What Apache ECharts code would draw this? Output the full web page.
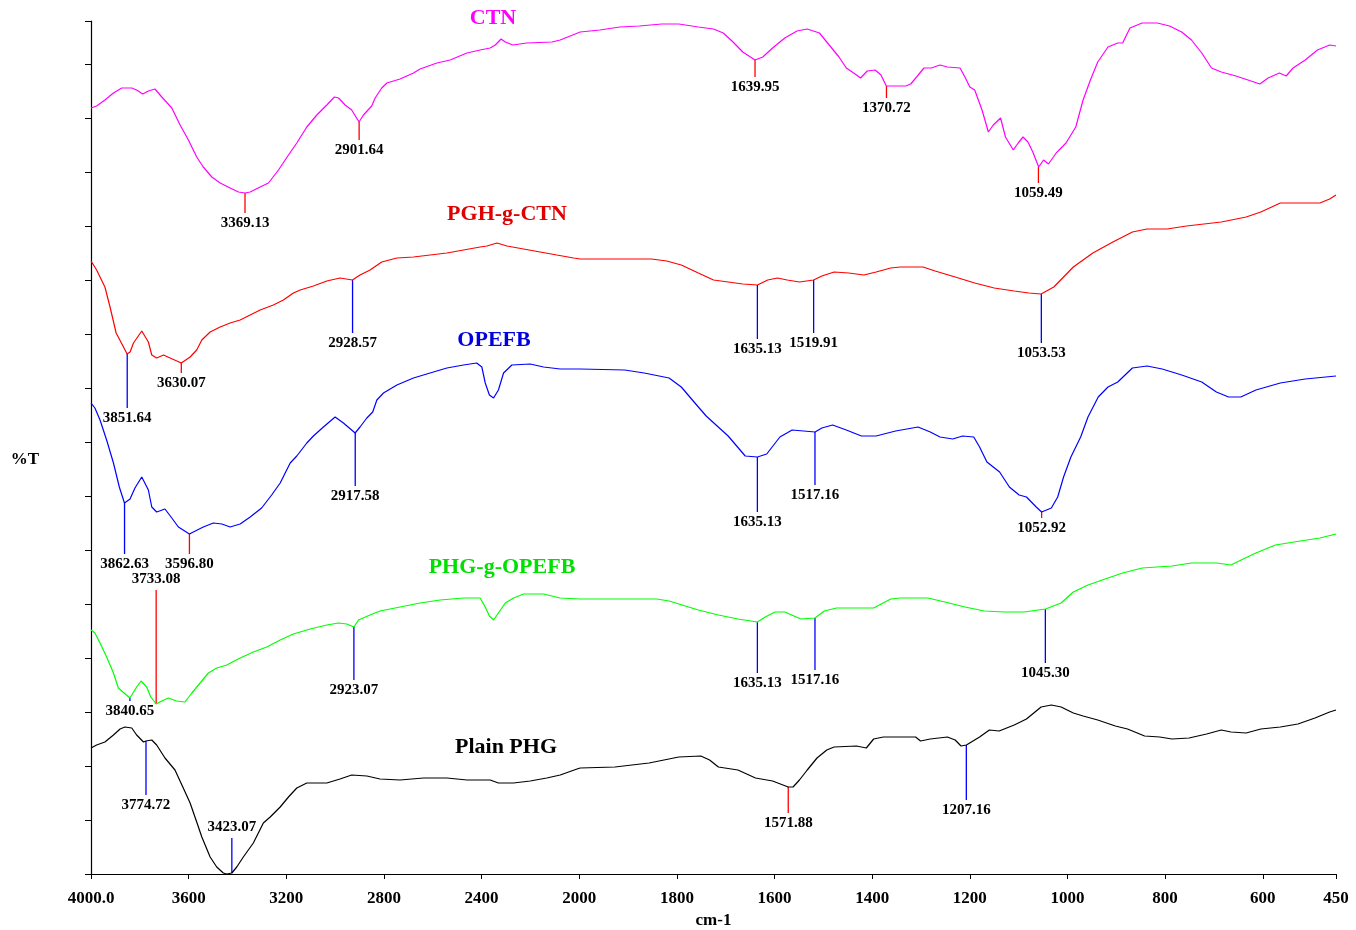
<!DOCTYPE html>
<html>
<head>
<meta charset="utf-8">
<title>FTIR spectra</title>
<script src="https://cdn.jsdelivr.net/npm/echarts@6/dist/echarts.min.js"></script>
<style>
html, body { margin: 0; padding: 0; background: #fff; }
#main { width: 1356px; height: 930px; }
</style>
</head>
<body>
<div id="main"></div>
<script>
// spectra: [wavenumber cm-1, offset %T]
const ctn = [[4000,766],[3977,768],[3943,774],[3908,781],[3874,786],[3833,786],[3813,784],[3788,780],[3765,783],[3738,785],[3710,777],[3669,766],[3635,749],[3601,734],[3567,717],[3540,707],[3505,697],[3471,691],[3430,686],[3396,682],[3369,681],[3348,682],[3307,687],[3273,691],[3232,704],[3191,719],[3157,731],[3116,747],[3075,759],[3034,769],[3003,777],[2986,776],[2959,769],[2932,764],[2902,752],[2884,759],[2850,768],[2836,776],[2809,786],[2788,791],[2734,795],[2679,801],[2652,805],[2583,811],[2529,814],[2460,821],[2406,824],[2365,826],[2344,829],[2320,835],[2303,832],[2272,829],[2215,831],[2112,832],[2078,834],
  [1998,842],[1958,844],[1917,847],[1877,848],[1831,850],[1796,850],[1756,847],[1725,845],[1705,841],[1685,832],[1665,822],[1640,814],[1624,817],[1604,826],[1579,836],[1554,843],[1533,845],[1508,841],[1488,829],[1468,817],[1453,806],[1432,799],[1424,796],[1410,803],[1394,804],[1382,799],[1371,788],[1352,788],[1331,788],[1321,790],[1309,797],[1294,806],[1279,806],[1261,809],[1246,807],[1220,806],[1210,797],[1200,787],[1190,784],[1175,764],[1162,742],[1152,749],[1137,756],[1127,737],[1111,724],[1101,731],[1091,737],[1081,732],[1071,722],[1059,707],[1049,714],[1039,710],[1023,721],[1003,731],[983,747],[968,774],[953,794],[938,812],[917,827],[897,831],[887,831],[872,846],[847,851],[816,851],[791,848],[766,842],[746,834],[725,821],[705,806],[685,802],[655,798],[624,793],[606,790],[589,796],[566,801],[552,798],[538,806],[513,814],[488,824],[463,829],[450,828]];

const pghCtn = [[4000,613],[3977,604],[3943,587],[3922,567],[3897,541],[3852,520],[3840,522],[3826,531],[3792,543],[3765,532],[3751,519],[3731,516],[3703,519],[3676,516],[3630,511],[3594,517],[3567,524],[3546,534],[3512,542],[3471,547],[3430,551],[3389,554],[3348,559],[3307,564],[3253,569],[3212,574],[3171,581],[3143,584],[3089,588],[3034,593],[2980,596],[2929,594],[2898,599],[2857,604],[2809,612],[2747,616],[2679,617],[2611,619],[2542,621],[2474,624],[2406,627],[2378,628],[2337,631],[2296,628],[2228,625],[2160,622],[2092,619],[2023,616],
  [1998,615],[1927,615],[1852,615],[1821,613],[1791,609],[1756,601],[1725,594],[1695,592],[1665,590],[1635,589],[1614,594],[1594,596],[1574,594],[1549,592],[1520,594],[1503,598],[1478,602],[1448,601],[1417,599],[1392,602],[1362,606],[1342,607],[1296,607],[1271,603],[1230,597],[1190,591],[1150,586],[1109,583],[1079,581],[1054,580],[1028,587],[988,607],[948,621],[907,632],[867,642],[837,645],[796,645],[756,648],[685,652],[634,657],[604,662],[564,671],[523,671],[483,671],[463,675],[450,679]];

const opefb = [[4000,471],[3984,466],[3963,454],[3936,434],[3908,411],[3884,387],[3863,371],[3840,375],[3820,386],[3792,397],[3765,384],[3751,367],[3731,362],[3697,365],[3669,356],[3642,347],[3597,340],[3581,342],[3540,347],[3499,351],[3464,350],[3430,347],[3389,350],[3348,357],[3301,366],[3260,379],[3225,391],[3184,411],[3157,418],[3116,431],[3089,438],[3048,447],[3000,457],[2966,451],[2918,441],[2898,447],[2870,456],[2846,462],[2829,474],[2802,481],[2747,489],[2679,496],[2611,501],[2542,506],[2474,509],[2420,511],[2399,507],[2385,491],[2368,479],[2351,476],[2331,484],[2310,501],[2276,509],[2201,510],[2146,507],[2078,505],
  [1998,505],[1907,504],[1867,501],[1816,496],[1791,487],[1756,467],[1740,458],[1695,438],[1660,418],[1635,417],[1616,420],[1589,437],[1564,444],[1517,442],[1503,446],[1481,449],[1453,444],[1422,438],[1392,438],[1352,443],[1306,447],[1281,442],[1261,437],[1235,435],[1215,438],[1192,437],[1180,427],[1165,412],[1139,402],[1119,387],[1099,379],[1084,377],[1064,367],[1053,362],[1033,366],[1020,377],[1008,397],[993,417],[973,437],[958,457],[937,477],[917,487],[897,492],[882,499],[867,506],[837,508],[806,505],[766,499],[725,492],[695,482],[670,477],[645,477],[614,484],[564,491],[513,495],[450,498]];

const phgOpefb = [[4000,244],[3984,241],[3963,231],[3936,217],[3908,201],[3888,186],[3841,176],[3833,179],[3813,187],[3795,193],[3772,187],[3755,177],[3733,170],[3710,173],[3683,176],[3649,173],[3615,172],[3587,181],[3553,191],[3519,201],[3485,206],[3444,209],[3389,216],[3335,222],[3280,227],[3225,234],[3171,240],[3102,245],[3034,249],[2986,251],[2952,250],[2923,247],[2904,254],[2857,259],[2816,263],[2734,267],[2652,271],[2570,274],[2474,276],[2406,276],[2385,267],[2368,258],[2351,254],[2331,261],[2303,271],[2269,276],[2228,280],[2146,280],[2078,276],
  [1998,275],[1841,275],[1816,273],[1796,270],[1756,264],[1715,259],[1675,255],[1635,252],[1619,257],[1599,262],[1579,262],[1546,255],[1517,256],[1498,263],[1473,266],[1397,266],[1362,275],[1342,276],[1286,276],[1251,272],[1210,267],[1170,263],[1129,262],[1089,262],[1045,265],[1013,271],[988,282],[958,289],[917,296],[887,301],[847,306],[786,308],[746,311],[695,311],[665,309],[640,315],[614,321],[574,329],[523,333],[483,336],[450,340]];

const plainPhg = [[4000,126],[3977,129],[3943,132],[3908,139],[3881,145],[3861,147],[3833,146],[3813,139],[3785,132],[3775,133],[3751,134],[3731,129],[3697,116],[3656,104],[3622,86],[3594,71],[3567,52],[3546,37],[3512,17],[3485,7],[3458,1],[3444,0],[3423,1],[3403,7],[3376,17],[3335,31],[3294,51],[3266,57],[3225,67],[3191,77],[3157,86],[3116,91],[3034,91],[2980,95],[2932,99],[2870,98],[2816,95],[2734,94],[2638,96],[2542,96],[2460,94],[2365,94],[2331,91],[2269,91],[2201,93],[2133,96],[2078,99],[2009,105],
  [1998,106],[1927,107],[1857,111],[1796,117],[1751,118],[1733,114],[1715,107],[1675,104],[1639,96],[1604,93],[1572,87],[1562,87],[1549,94],[1533,104],[1513,116],[1493,124],[1478,127],[1432,128],[1412,126],[1397,135],[1377,137],[1311,137],[1301,133],[1281,135],[1246,137],[1230,134],[1218,128],[1207,129],[1180,137],[1160,144],[1140,143],[1109,149],[1084,155],[1054,167],[1033,169],[1013,167],[988,161],[968,158],[938,154],[902,148],[877,145],[842,138],[811,137],[786,135],[751,136],[715,140],[685,144],[665,142],[634,141],[604,145],[564,147],[528,150],[493,156],[463,162],[450,164]];

// peak picks: [wavenumber, %T on curve, %T at end of leader]
const redPeaks = [[3369.13,681,661],[2901.64,752,734],[1639.95,814,797],[1370.72,788,776],[1059.49,707,691],
  [3630.07,511,501],[3596.80,340,320],[1052.92,362,356],[3733.08,170,284],[1571.88,87,61]];
const bluePeaks = [[3851.64,520,466],[2928.57,594,541],[1635.13,589,535],[1519.91,594,541],[1053.53,580,531],
  [3862.63,371,320],[2917.58,441,388],[1635.13,417,362],[1517.16,442,389],
  [3840.65,176,173],[2923.07,247,194],[1635.13,252,201],[1517.16,256,204],[1045.30,265,211],
  [3774.72,133,79],[3423.07,1,36],[1207.16,129,74]];

// x axis is expanded 2x below 2000 cm-1
function toPos (w) {
  return w >= 2000 ? (4000 - w) / 2 : 1000 + (2000 - w)
}
function toWn (p) {
  return p <= 1000 ? 4000 - 2 * p : 2000 - (p - 1000)
}

const serif = '"Liberation Serif", "Times New Roman", serif'
const chart = echarts.init(document.getElementById('main'))

function spectrum (name, data, color) {
  return {
    name: name,
    type: 'line',
    data: data.map(d => [toPos(d[0]), d[1]]),
    showSymbol: false,
    lineStyle: { color: color, width: 1.2 },
    itemStyle: { color: color },
    animation: false
  }
}

function peaks (data, color) {
  return {
    type: 'custom',
    data: data.map(d => [toPos(d[0]), d[1], d[2], d[0]]),
    encode: { x: 0, y: [1, 2] },
    clip: false,
    animation: false,
    renderItem (params, api) {
      const a = api.coord([api.value(0), api.value(1)])
      const b = api.coord([api.value(0), api.value(2)])
      const down = b[1] >= a[1]
      return {
        type: 'group',
        children: [
          {
            type: 'line',
            shape: { x1: a[0], y1: a[1], x2: b[0], y2: b[1] },
            style: { stroke: color, lineWidth: 1.3 }
          },
          {
            type: 'text',
            x: b[0],
            y: b[1] + (down ? 3 : -3),
            style: {
              text: Number(api.value(3)).toFixed(2),
              fill: '#000',
              font: 'bold 15px ' + serif,
              align: 'center',
              textAlign: 'center',
              verticalAlign: down ? 'top' : 'bottom',
              textVerticalAlign: down ? 'top' : 'bottom'
            }
          }
        ]
      }
    }
  }
}

function title (text, x, y, color) {
  return {
    type: 'text',
    x: x,
    y: y,
    style: {
      text: text,
      fill: color,
      font: 'bold 22px ' + serif,
      align: 'center',
      textAlign: 'center',
      verticalAlign: 'middle',
      textVerticalAlign: 'middle'
    }
  }
}

chart.setOption({
  backgroundColor: '#fff',
  animation: false,
  grid: { left: 91, right: 20, top: 21, bottom: 56, outerBoundsMode: 'none', containLabel: false },
  xAxis: {
    type: 'value',
    min: 0,
    max: 2550,
    interval: 200,
    name: 'cm-1',
    nameLocation: 'middle',
    nameGap: 38,
    nameTextStyle: { color: '#000', fontFamily: serif, fontWeight: 'bold', fontSize: 17 },
    axisLine: { lineStyle: { color: '#000', width: 1.2 } },
    axisTick: { inside: false, length: 5, lineStyle: { color: '#000' } },
    axisLabel: {
      color: '#000',
      fontFamily: serif,
      fontWeight: 'bold',
      fontSize: 17,
      margin: 16,
      showMinLabel: true,
      showMaxLabel: true,
      formatter: v => v === 0 ? '4000.0' : String(Math.round(toWn(v)))
    },
    splitLine: { show: false }
  },
  yAxis: {
    type: 'value',
    min: 0,
    max: 853,
    interval: 54,
    axisLine: { show: true, lineStyle: { color: '#000', width: 1.2 } },
    axisTick: { show: true, inside: false, length: 6, lineStyle: { color: '#000' } },
    axisLabel: { show: false },
    splitLine: { show: false }
  },
  graphic: [
    {
      type: 'text',
      x: 25,
      y: 460,
      style: {
        text: '%T', fill: '#000', font: 'bold 17px ' + serif,
        align: 'center', textAlign: 'center', verticalAlign: 'middle', textVerticalAlign: 'middle'
      }
    },
    title('CTN', 493, 18, '#ff00ff'),
    title('PGH-g-CTN', 507, 214, '#e00000'),
    title('OPEFB', 494, 340, '#0000e0'),
    title('PHG-g-OPEFB', 502, 567, '#00e000'),
    title('Plain PHG', 506, 747, '#000')
  ],
  series: [
    spectrum('CTN', ctn, '#ff00ff'),
    spectrum('PGH-g-CTN', pghCtn, '#ff0000'),
    spectrum('OPEFB', opefb, '#0000ff'),
    spectrum('PHG-g-OPEFB', phgOpefb, '#00ff00'),
    spectrum('Plain PHG', plainPhg, '#000000'),
    peaks(redPeaks, '#ff0000'),
    peaks(bluePeaks, '#0000ff')
  ]
})
</script>
</body>
</html>
